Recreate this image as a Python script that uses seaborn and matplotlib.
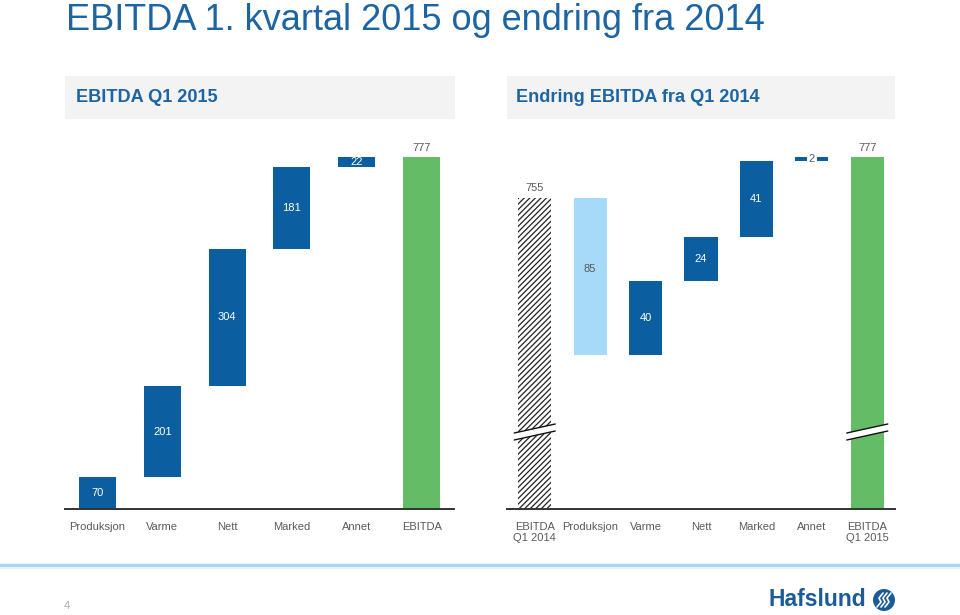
import matplotlib
matplotlib.use("Agg")
import matplotlib.pyplot as plt
import seaborn as sns
import numpy as np
import pandas as pd
from matplotlib.patches import Rectangle, Polygon, Ellipse
from matplotlib.lines import Line2D

# ---------------- data ----------------
left_cats = ["Produksjon", "Varme", "Nett", "Marked", "Annet", "EBITDA"]
left_vals = [70, 201, 304, 181, 22, 777]          # bar sizes
left_total_flags = [False, False, False, False, False, True]

right_cats = ["EBITDA\nQ1 2014", "Produksjon", "Varme", "Nett", "Marked", "Annet", "EBITDA\nQ1 2015"]
right_start = 755
right_changes = [-85, 40, 24, 41, 2]
right_end = 777

title = "EBITDA 1. kvartal 2015 og endring fra 2014"
left_header = "EBITDA Q1 2015"
right_header = "Endring EBITDA fra Q1 2014"

DARK = "#0B5E9F"
LIGHT = "#A7D9F9"
GREEN = "#65BC67"
TXT = "#5A5A5A"
TBLUE = "#1C64A2"

sns.set_theme(style="white")
plt.rcParams["font.family"] = ["Liberation Sans", "DejaVu Sans"]
plt.rcParams["hatch.linewidth"] = 0.9

fig = plt.figure(figsize=(9.6, 6.15), dpi=100)
W, H = 960, 615

def fx(px):
    return px / W

def fy(py):
    return 1 - py / H

# ---------- waterfall computations ----------
l_bottoms, run = [], 0
for v, tot in zip(left_vals, left_total_flags):
    if tot:
        l_bottoms.append(0)
    else:
        l_bottoms.append(run)
        run += v
l_heights = list(left_vals)

r_bottoms = [0]
r_heights = [right_start]
run = right_start
for c in right_changes:
    if c < 0:
        r_bottoms.append(run + c)
        r_heights.append(-c)
    else:
        r_bottoms.append(run)
        r_heights.append(c)
    run += c
r_bottoms.append(0)
r_heights.append(right_end)

# ---------- axes ----------
axL = fig.add_axes([fx(65), fy(509), fx(389), 369 / H])
axR = fig.add_axes([fx(507), fy(509), fx(388), 369 / H])

dfL = pd.DataFrame({"cat": left_cats, "val": l_heights})
sns.barplot(data=dfL, x="cat", y="val", order=left_cats, color=DARK, width=0.57,
            errorbar=None, bottom=l_bottoms, ax=axL, saturation=1, linewidth=0)
dfR = pd.DataFrame({"cat": right_cats, "val": r_heights})
sns.barplot(data=dfR, x="cat", y="val", order=right_cats, color=DARK, width=0.6,
            errorbar=None, bottom=r_bottoms, ax=axR, saturation=1, linewidth=0)

axL.set_ylim(0, 814.5)
axR.set_ylim(586.7, 786.2)

# colours
axL.patches[-1].set_facecolor(GREEN)
pR = axR.patches
pR[0].set_facecolor("white")
pR[0].set_hatch("//////")
pR[0].set_edgecolor("#222222")
pR[0].set_linewidth(0)
pR[1].set_facecolor(LIGHT)
pR[-1].set_facecolor(GREEN)

for ax in (axL, axR):
    ax.set_xlim(-0.5, len(ax.patches) - 0.5)
    ax.set_xlabel("")
    ax.set_ylabel("")
    ax.set_yticks([])
    for s in ("left", "right", "top"):
        ax.spines[s].set_visible(False)
    ax.spines["bottom"].set_color("#333333")
    ax.spines["bottom"].set_linewidth(1.4)
    ax.tick_params(axis="x", length=0, pad=9, labelsize=8, labelcolor=TXT)
    ax.set_facecolor("none")

# ---------- value labels ----------
fs = 8
for i, (b, h) in enumerate(zip(l_bottoms, l_heights)):
    if left_total_flags[i]:
        axL.text(i, b + h + 19, f"{left_vals[i]}", ha="center", va="center", color=TXT, fontsize=fs)
    else:
        axL.text(i, b + h / 2, f"{left_vals[i]}", ha="center", va="center", color="white", fontsize=fs)

axR.text(0, right_start + 5.2, f"{right_start}", ha="center", va="center", color=TXT, fontsize=fs)
axR.text(len(right_cats) - 1, right_end + 4.7, f"{right_end}", ha="center", va="center", color=TXT, fontsize=fs)
for j, c in enumerate(right_changes):
    i = j + 1
    b, h = r_bottoms[i], r_heights[i]
    lab = f"{abs(c)}"
    if c < 0:
        axR.text(i, b + h / 2 + 4, lab, ha="center", va="center", color=TXT, fontsize=fs)
    elif abs(c) < 5:
        axR.text(i, b + h / 2, lab, ha="center", va="center", color=TXT, fontsize=fs,
                 bbox=dict(boxstyle="square,pad=0.15", fc="white", ec="none"))
    else:
        axR.text(i, b + h / 2, lab, ha="center", va="center", color="white", fontsize=fs)

# ---------- axis break marks ----------
def brk(ax, xc, half, y_px):
    trans = fig.transFigure
    fig_x0 = ax.transData.transform((xc - half, 0))[0] / W
    fig_x1 = ax.transData.transform((xc + half, 0))[0] / W
    yc = fy(y_px)
    gap = 3.5 / H
    rise = 4.5 / H
    poly = Polygon([[fig_x0, yc - rise - gap], [fig_x1, yc + rise - gap],
                    [fig_x1, yc + rise + gap], [fig_x0, yc - rise + gap]],
                   closed=True, transform=trans, fc="white", ec="none", zorder=5)
    fig.add_artist(poly)
    for sgn in (-1, 1):
        fig.add_artist(Line2D([fig_x0, fig_x1], [yc - rise + sgn * gap, yc + rise + sgn * gap],
                              transform=trans, color="#111111", lw=1.0, zorder=6))

fig.canvas.draw()
brk(axR, 0, 0.37, 432)
brk(axR, 6, 0.37, 432)

# ---------- title & headers ----------
fig.text(fx(66), fy(30), title, ha="left", va="baseline", fontsize=26, color=TBLUE)

fig.add_artist(Rectangle((fx(65), fy(119)), fx(390), 43 / H, transform=fig.transFigure,
                         fc="#F3F3F3", ec="none", zorder=0))
fig.add_artist(Rectangle((fx(507), fy(119)), fx(388), 43 / H, transform=fig.transFigure,
                         fc="#F3F3F3", ec="none", zorder=0))
fig.text(fx(76), fy(98), left_header, ha="left", va="center", fontsize=13.1,
         fontweight="bold", color=TBLUE)
fig.text(fx(516), fy(98), right_header, ha="left", va="center", fontsize=13.1,
         fontweight="bold", color=TBLUE)

# ---------- footer ----------
fig.add_artist(Line2D([0, 1], [fy(565), fy(565)], transform=fig.transFigure,
                      color="#A9D8F6", lw=2.5))
fig.add_artist(Line2D([0, 1], [fy(568), fy(568)], transform=fig.transFigure,
                      color="#E4F2FC", lw=1.5))
fig.text(fx(67), fy(606), "4", ha="center", va="center", fontsize=8, color="#AAAAAA")
fig.text(fx(768), fy(600), "Hafslund", ha="left", va="center", fontsize=16.5,
         fontweight="bold", color="#1B5C98")
fig.add_artist(Ellipse((fx(884), fy(600)), 22 / W, 22 / H, transform=fig.transFigure,
                       fc="#1B5C98", ec="none"))
for k, dx in enumerate((-4, 0, 4)):
    fig.add_artist(Line2D([fx(884 + dx - 3), fx(884 + dx + 1), fx(884 + dx - 1), fx(884 + dx + 3)],
                          [fy(607), fy(602), fy(598), fy(593)], transform=fig.transFigure,
                          color="white", lw=1.2))

fig.savefig("out.png", dpi=100)
